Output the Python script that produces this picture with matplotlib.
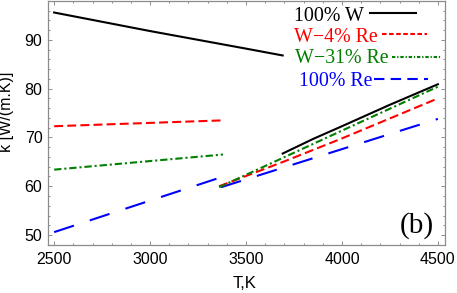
import matplotlib
matplotlib.use("Agg")
import matplotlib.pyplot as plt
from matplotlib.lines import Line2D
from matplotlib.ticker import MultipleLocator

# ---- data ----
T_W_sol = [2500, 3000, 3500, 3691]
k_W_sol = [95.6, 91.8, 88.2, 86.8]
T_W_liq = [3691, 3850, 4000, 4250, 4500]
k_W_liq = [66.7, 69.7, 72.3, 76.7, 80.9]

T_W4_sol = [2500, 3380]
k_W4_sol = [72.3, 73.5]
T_W4_liq = [3360, 3700, 4000, 4500]
k_W4_liq = [60.0, 65.1, 69.8, 78.0]

T_W31_sol = [2500, 3380]
k_W31_sol = [63.4, 66.5]
T_W31_liq = [3360, 4000, 4500]
k_W31_liq = [59.8, 71.4, 80.4]

T_Re_sol = [2500, 3390]
k_Re_sol = [50.6, 62.1]
T_Re_liq = [3370, 4500]
k_Re_liq = [59.8, 73.8]

labels = ["100% W", "W\u22124% Re", "W\u221231% Re", "100% Re"]
colors = ["black", "#ff0000", "#007f00", "#0000ff"]

W, H, DPI = 457, 293, 100
fig = plt.figure(figsize=(W / DPI, H / DPI), dpi=DPI)
ax = fig.add_axes([48 / W, 1 - 245 / H, 397 / W, 244 / H])

lw = 1.5
styles = [
    dict(linestyle="-"),
    dict(linestyle=(0, (4.3, 2.0))),
    dict(linestyle=(0, (3.5, 1.4, 1.0, 1.4))),
    dict(linestyle=(0, (10, 8))),
]
series = [
    (T_W_sol, k_W_sol, T_W_liq, k_W_liq),
    (T_W4_sol, k_W4_sol, T_W4_liq, k_W4_liq),
    (T_W31_sol, k_W31_sol, T_W31_liq, k_W31_liq),
    (T_Re_sol, k_Re_sol, T_Re_liq, k_Re_liq),
]
order = [3, 1, 2, 0]
for i in order:
    ts, ks, tl, kl = series[i]
    ax.plot(ts, ks, color=colors[i], lw=lw, **styles[i])
    ax.plot(tl, kl, color=colors[i], lw=lw, **styles[i])

ax.set_xlim(2468, 4537)
ax.set_ylim(47.96, 97.96)
ax.xaxis.set_major_locator(MultipleLocator(500))
ax.xaxis.set_minor_locator(MultipleLocator(100))
ax.yaxis.set_major_locator(MultipleLocator(10))
ax.yaxis.set_minor_locator(MultipleLocator(2))

frame_col = "#8c8c8c"
for s in ax.spines.values():
    s.set_color(frame_col)
    s.set_linewidth(0.9)
ax.tick_params(which="both", direction="in", top=True, right=True,
               color=frame_col, width=0.7)
ax.tick_params(which="major", length=3.2)
ax.tick_params(which="minor", length=1.7)
ax.tick_params(axis="x", which="major", pad=5)
ax.tick_params(axis="y", which="major", pad=4)
for lab in ax.get_xticklabels() + ax.get_yticklabels():
    lab.set_fontfamily("Liberation Sans")
    lab.set_fontsize(11.5)

fig.text(245 / W, 1 - 283 / H, "T,K", ha="center", va="center",
         fontsize=12, family="Liberation Sans")
fig.text(6.5 / W, 1 - 112 / H, "k [W/(m.K)]", ha="center", va="center",
         rotation=90, fontsize=11.5, family="Liberation Sans")

fig.text(417 / W, 1 - 226 / H, "(b)", ha="center", va="center",
         fontsize=21, family="Liberation Serif")

# legend (manual, Mathematica-like)
leg_text_x = [294, 294, 295, 299]
leg_base_y = [21, 42, 63, 86]
leg_line = [(370, 416, 13.3), (382, 427, 34), (392, 441, 57.3), (374, 428, 79.3)]
leg_styles = ["-", (0, (2.2, 1.2)), (0, (1.6, 0.9, 0.6, 0.9)), (0, (5, 3))]
for i in range(4):
    fig.text(leg_text_x[i] / W, 1 - leg_base_y[i] / H, labels[i],
             ha="left", va="baseline", color=colors[i], fontsize=14.4,
             family="Liberation Serif")
    x0, x1, y = leg_line[i]
    fig.add_artist(Line2D([x0 / W, x1 / W], [1 - y / H, 1 - y / H],
                          transform=fig.transFigure, color=colors[i],
                          lw=lw, linestyle=leg_styles[i]))

fig.savefig("out.png", dpi=DPI)
